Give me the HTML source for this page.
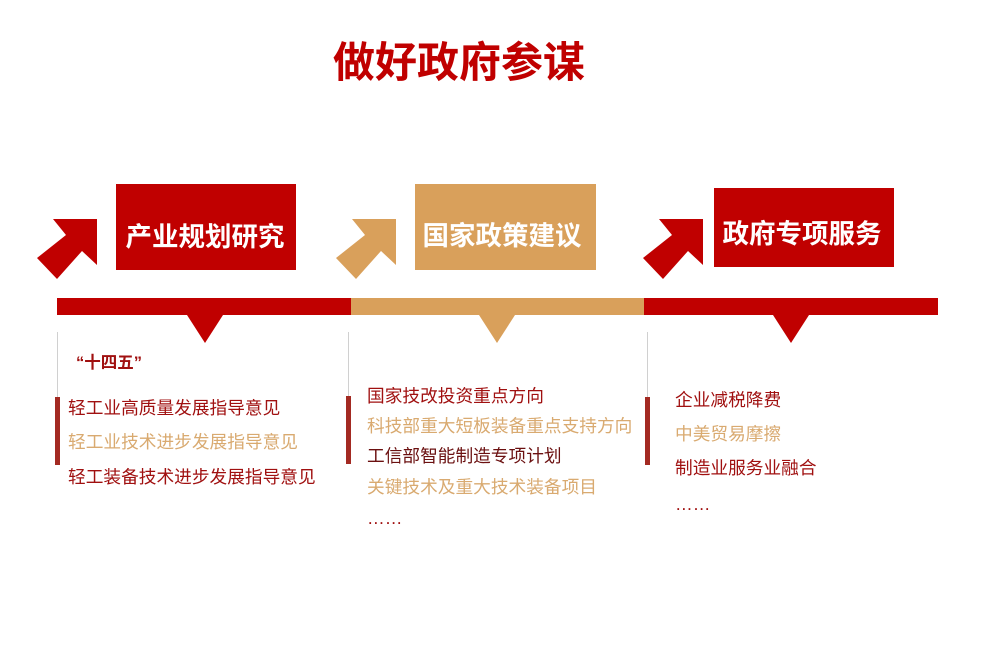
<!DOCTYPE html>
<html><head><meta charset="utf-8"><style>
body{margin:0;background:#fff;}
svg{display:block;}
text{font-family:"Liberation Sans","Noto Sans CJK SC",sans-serif;}
</style></head><body>
<svg width="995" height="659" viewBox="0 0 995 659">
<text x="459" y="77" font-size="42" font-weight="bold" fill="#c00000" text-anchor="middle">做好政府参谋</text>
<defs><polygon id="arr" points="0,0 44,0 44,46 29,32 4,60 -16,39 13,16"/></defs>
<use href="#arr" x="53" y="219" fill="#c00000"/>
<use href="#arr" x="352" y="219" fill="#d9a05b"/>
<use href="#arr" x="659" y="219" fill="#c00000"/>
<rect x="116" y="184" width="180" height="86" fill="#c00000"/>
<rect x="415" y="184" width="181" height="86" fill="#d9a05b"/>
<rect x="714" y="188" width="180" height="79" fill="#c00000"/>
<g font-size="26.5" font-weight="bold" fill="#fff" text-anchor="middle">
<text x="205" y="246">产业规划研究</text>
<text x="502" y="245">国家政策建议</text>
<text x="802" y="243">政府专项服务</text>
</g>
<rect x="57" y="298" width="294" height="17" fill="#c00000"/>
<rect x="351" y="298" width="293" height="17" fill="#d9a05b"/>
<rect x="644" y="298" width="294" height="17" fill="#c00000"/>
<polygon points="187,315 223,315 205,343" fill="#c00000"/>
<polygon points="479,315 515,315 497,343" fill="#d9a05b"/>
<polygon points="773,315 809,315 791,343" fill="#c00000"/>
<g stroke="#d0d0d0" stroke-width="1">
<line x1="57.5" y1="332" x2="57.5" y2="397"/>
<line x1="348.5" y1="332" x2="348.5" y2="397"/>
<line x1="647.5" y1="332" x2="647.5" y2="397"/>
</g>
<g fill="#a32a22">
<rect x="55" y="397" width="5" height="68"/>
<rect x="346" y="396" width="5" height="68"/>
<rect x="645" y="397" width="5" height="68"/>
</g>
<text x="76" y="368" font-size="16.5" font-weight="bold" fill="#a01010">“十四五”</text>
<g font-size="17.7">
<text x="68" y="414" fill="#a01010">轻工业高质量发展指导意见</text>
<text x="68" y="448" fill="#d9aa70">轻工业技术进步发展指导意见</text>
<text x="68" y="483" fill="#a01010">轻工装备技术进步发展指导意见</text>
<text x="367" y="402" fill="#a01010">国家技改投资重点方向</text>
<text x="367" y="432" fill="#d9aa70">科技部重大短板装备重点支持方向</text>
<text x="367" y="462" fill="#6b1010">工信部智能制造专项计划</text>
<text x="367" y="493" fill="#d9aa70">关键技术及重大技术装备项目</text>
<text x="367" y="524" fill="#a01010">……</text>
<text x="675" y="406" fill="#a01010">企业减税降费</text>
<text x="675" y="440" fill="#d9aa70">中美贸易摩擦</text>
<text x="675" y="474" fill="#a01010">制造业服务业融合</text>
<text x="675" y="510" fill="#a01010">……</text>
</g>
</svg>
</body></html>
